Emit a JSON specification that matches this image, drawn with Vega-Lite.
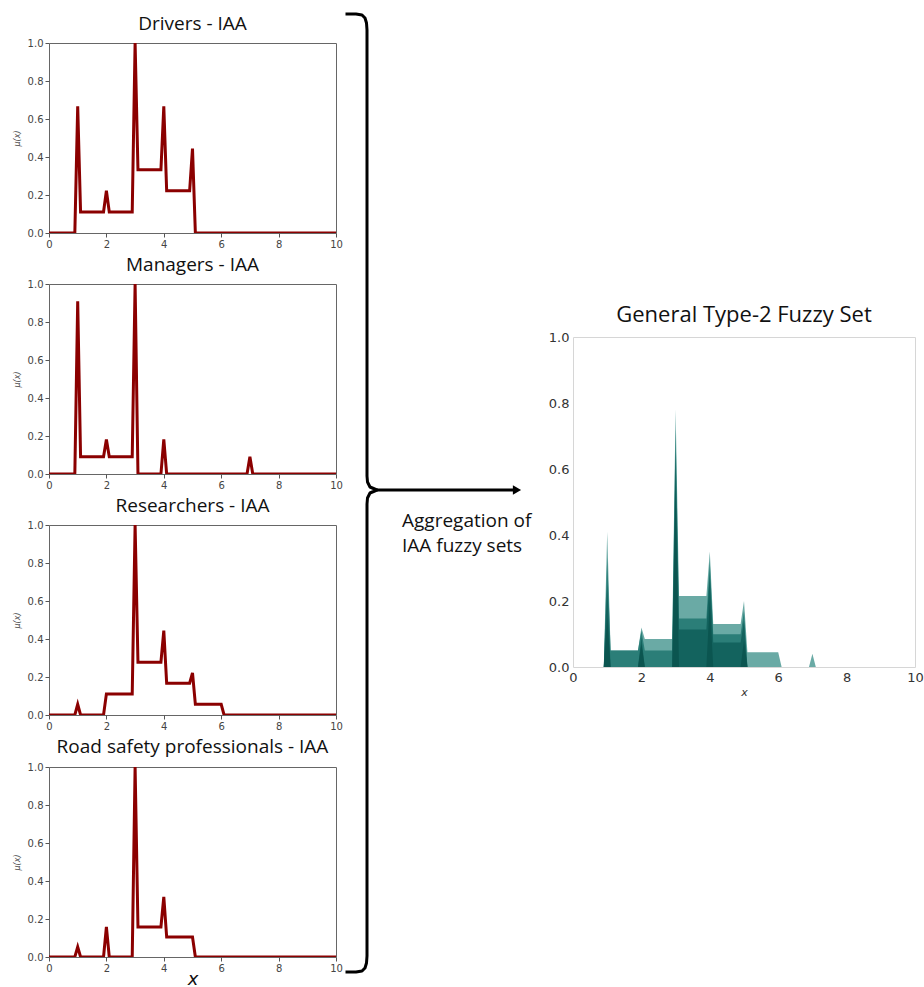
{
  "$schema": "https://vega.github.io/schema/vega-lite/v6.json",
  "background": "white",
  "padding": {"left": 12, "top": 12, "right": 0, "bottom": 0},
  "config": {
    "font": "DejaVu Sans",
    "axis": {"labelFont": "DejaVu Sans", "grid": false, "domain": false, "labelFlush": false},
    "title": {"font": "Open Sans", "fontWeight": "normal", "color": "#111"}
  },
  "datasets": {
    "type1": [
      {"group": "Drivers", "x": 0, "mu": 0}, {"group": "Drivers", "x": 0.9, "mu": 0}, {"group": "Drivers", "x": 1.0, "mu": 0.667}, {"group": "Drivers", "x": 1.1, "mu": 0.111}, {"group": "Drivers", "x": 1.9, "mu": 0.111}, {"group": "Drivers", "x": 2.0, "mu": 0.222}, {"group": "Drivers", "x": 2.1, "mu": 0.111}, {"group": "Drivers", "x": 2.9, "mu": 0.111}, {"group": "Drivers", "x": 3.0, "mu": 1.0}, {"group": "Drivers", "x": 3.1, "mu": 0.333}, {"group": "Drivers", "x": 3.9, "mu": 0.333}, {"group": "Drivers", "x": 4.0, "mu": 0.667}, {"group": "Drivers", "x": 4.1, "mu": 0.222}, {"group": "Drivers", "x": 4.9, "mu": 0.222}, {"group": "Drivers", "x": 5.0, "mu": 0.444}, {"group": "Drivers", "x": 5.1, "mu": 0}, {"group": "Drivers", "x": 10, "mu": 0},
      {"group": "Managers", "x": 0, "mu": 0}, {"group": "Managers", "x": 0.9, "mu": 0}, {"group": "Managers", "x": 1.0, "mu": 0.909}, {"group": "Managers", "x": 1.1, "mu": 0.091}, {"group": "Managers", "x": 1.9, "mu": 0.091}, {"group": "Managers", "x": 2.0, "mu": 0.182}, {"group": "Managers", "x": 2.1, "mu": 0.091}, {"group": "Managers", "x": 2.9, "mu": 0.091}, {"group": "Managers", "x": 3.0, "mu": 1.0}, {"group": "Managers", "x": 3.1, "mu": 0}, {"group": "Managers", "x": 3.9, "mu": 0}, {"group": "Managers", "x": 4.0, "mu": 0.182}, {"group": "Managers", "x": 4.1, "mu": 0}, {"group": "Managers", "x": 6.9, "mu": 0}, {"group": "Managers", "x": 7.0, "mu": 0.091}, {"group": "Managers", "x": 7.1, "mu": 0}, {"group": "Managers", "x": 10, "mu": 0},
      {"group": "Researchers", "x": 0, "mu": 0}, {"group": "Researchers", "x": 0.9, "mu": 0}, {"group": "Researchers", "x": 1.0, "mu": 0.056}, {"group": "Researchers", "x": 1.1, "mu": 0}, {"group": "Researchers", "x": 1.9, "mu": 0}, {"group": "Researchers", "x": 2.0, "mu": 0.111}, {"group": "Researchers", "x": 2.9, "mu": 0.111}, {"group": "Researchers", "x": 3.0, "mu": 1.0}, {"group": "Researchers", "x": 3.1, "mu": 0.278}, {"group": "Researchers", "x": 3.9, "mu": 0.278}, {"group": "Researchers", "x": 4.0, "mu": 0.444}, {"group": "Researchers", "x": 4.1, "mu": 0.167}, {"group": "Researchers", "x": 4.9, "mu": 0.167}, {"group": "Researchers", "x": 5.0, "mu": 0.222}, {"group": "Researchers", "x": 5.1, "mu": 0.056}, {"group": "Researchers", "x": 6.0, "mu": 0.056}, {"group": "Researchers", "x": 6.1, "mu": 0}, {"group": "Researchers", "x": 10, "mu": 0},
      {"group": "Road", "x": 0, "mu": 0}, {"group": "Road", "x": 0.9, "mu": 0}, {"group": "Road", "x": 1.0, "mu": 0.053}, {"group": "Road", "x": 1.1, "mu": 0}, {"group": "Road", "x": 1.9, "mu": 0}, {"group": "Road", "x": 2.0, "mu": 0.158}, {"group": "Road", "x": 2.1, "mu": 0}, {"group": "Road", "x": 2.9, "mu": 0}, {"group": "Road", "x": 3.0, "mu": 1.0}, {"group": "Road", "x": 3.1, "mu": 0.158}, {"group": "Road", "x": 3.9, "mu": 0.158}, {"group": "Road", "x": 4.0, "mu": 0.316}, {"group": "Road", "x": 4.1, "mu": 0.105}, {"group": "Road", "x": 5.0, "mu": 0.105}, {"group": "Road", "x": 5.1, "mu": 0}, {"group": "Road", "x": 10, "mu": 0}
    ],
    "gt2": [
      {"slice": 1, "x": 0.9, "mu": 0}, {"slice": 1, "x": 1.0, "mu": 0.41}, {"slice": 1, "x": 1.1, "mu": 0.05}, {"slice": 1, "x": 1.9, "mu": 0.05}, {"slice": 1, "x": 2.0, "mu": 0.12}, {"slice": 1, "x": 2.1, "mu": 0.085}, {"slice": 1, "x": 2.9, "mu": 0.085}, {"slice": 1, "x": 3.0, "mu": 0.78}, {"slice": 1, "x": 3.1, "mu": 0.215}, {"slice": 1, "x": 3.9, "mu": 0.215}, {"slice": 1, "x": 4.0, "mu": 0.35}, {"slice": 1, "x": 4.1, "mu": 0.13}, {"slice": 1, "x": 4.9, "mu": 0.13}, {"slice": 1, "x": 5.0, "mu": 0.2}, {"slice": 1, "x": 5.1, "mu": 0.045}, {"slice": 1, "x": 6.0, "mu": 0.045}, {"slice": 1, "x": 6.1, "mu": 0}, {"slice": 1, "x": 6.9, "mu": 0}, {"slice": 1, "x": 7.0, "mu": 0.04}, {"slice": 1, "x": 7.1, "mu": 0},
      {"slice": 2, "x": 0.9, "mu": 0}, {"slice": 2, "x": 1.0, "mu": 0.33}, {"slice": 2, "x": 1.1, "mu": 0.05}, {"slice": 2, "x": 1.9, "mu": 0.05}, {"slice": 2, "x": 2.0, "mu": 0.11}, {"slice": 2, "x": 2.1, "mu": 0.05}, {"slice": 2, "x": 2.9, "mu": 0.05}, {"slice": 2, "x": 3.0, "mu": 0.72}, {"slice": 2, "x": 3.1, "mu": 0.147}, {"slice": 2, "x": 3.9, "mu": 0.147}, {"slice": 2, "x": 4.0, "mu": 0.32}, {"slice": 2, "x": 4.1, "mu": 0.099}, {"slice": 2, "x": 4.9, "mu": 0.099}, {"slice": 2, "x": 5.0, "mu": 0.17}, {"slice": 2, "x": 5.1, "mu": 0},
      {"slice": 3, "x": 0.9, "mu": 0}, {"slice": 3, "x": 1.0, "mu": 0.25}, {"slice": 3, "x": 1.1, "mu": 0}, {"slice": 3, "x": 1.9, "mu": 0}, {"slice": 3, "x": 2.0, "mu": 0.09}, {"slice": 3, "x": 2.1, "mu": 0}, {"slice": 3, "x": 2.9, "mu": 0}, {"slice": 3, "x": 3.0, "mu": 0.65}, {"slice": 3, "x": 3.1, "mu": 0.114}, {"slice": 3, "x": 3.9, "mu": 0.114}, {"slice": 3, "x": 4.0, "mu": 0.28}, {"slice": 3, "x": 4.1, "mu": 0.074}, {"slice": 3, "x": 4.9, "mu": 0.074}, {"slice": 3, "x": 5.0, "mu": 0.14}, {"slice": 3, "x": 5.1, "mu": 0},
      {"slice": 4, "x": 0.9, "mu": 0}, {"slice": 4, "x": 1.0, "mu": 0.15}, {"slice": 4, "x": 1.1, "mu": 0}, {"slice": 4, "x": 1.9, "mu": 0}, {"slice": 4, "x": 2.0, "mu": 0.07}, {"slice": 4, "x": 2.1, "mu": 0}, {"slice": 4, "x": 2.9, "mu": 0}, {"slice": 4, "x": 3.0, "mu": 0.55}, {"slice": 4, "x": 3.1, "mu": 0}, {"slice": 4, "x": 3.9, "mu": 0}, {"slice": 4, "x": 4.0, "mu": 0.2}, {"slice": 4, "x": 4.1, "mu": 0}, {"slice": 4, "x": 4.9, "mu": 0}, {"slice": 4, "x": 5.0, "mu": 0.08}, {"slice": 4, "x": 5.1, "mu": 0}
    ],
    "brace": [
      {"part": "brace", "i": 1, "px": 344.5, "py": 14}, {"part": "brace", "i": 2, "px": 355, "py": 14}, {"part": "brace", "i": 3, "px": 361, "py": 15}, {"part": "brace", "i": 4, "px": 364, "py": 18}, {"part": "brace", "i": 5, "px": 365.5, "py": 23}, {"part": "brace", "i": 6, "px": 366, "py": 30}, {"part": "brace", "i": 7, "px": 366, "py": 476}, {"part": "brace", "i": 8, "px": 366.5, "py": 482}, {"part": "brace", "i": 9, "px": 369, "py": 487}, {"part": "brace", "i": 10, "px": 376, "py": 490}, {"part": "brace", "i": 11, "px": 369, "py": 493}, {"part": "brace", "i": 12, "px": 366.5, "py": 498}, {"part": "brace", "i": 13, "px": 366, "py": 504}, {"part": "brace", "i": 14, "px": 366, "py": 956}, {"part": "brace", "i": 15, "px": 365.5, "py": 963}, {"part": "brace", "i": 16, "px": 364, "py": 968}, {"part": "brace", "i": 17, "px": 361, "py": 971}, {"part": "brace", "i": 18, "px": 355, "py": 972}, {"part": "brace", "i": 19, "px": 344.5, "py": 972},
      {"part": "arrow", "i": 1, "px": 376, "py": 490}, {"part": "arrow", "i": 2, "px": 513, "py": 490}
    ],
    "notes": [
      {"label": "Aggregation of", "px": 401, "py": 521},
      {"label": "IAA fuzzy sets", "px": 401, "py": 546}
    ],
    "heads": [{"px": 516, "py": 490}]
  },
  "hconcat": [
    {
      "vconcat": [
        {
          "width": 287, "height": 190,
          "view": {"stroke": "#666"},
          "title": {"text": "Drivers - IAA", "fontSize": 19, "anchor": "middle", "offset": 4},
          "data": {"name": "type1"},
          "transform": [{"filter": "datum.group === 'Drivers'"}],
          "mark": {"type": "line", "color": "#8b0000", "strokeWidth": 3, "clip": true},
          "encoding": {
            "x": {"field": "x", "type": "quantitative", "scale": {"domain": [0, 10], "nice": false}, "axis": {"values": [0, 2, 4, 6, 8, 10], "title": null, "labelFontSize": 10, "labelColor": "#444", "tickColor": "#555", "tickSize": 4, "labelPadding": 2}},
            "y": {"field": "mu", "type": "quantitative", "scale": {"domain": [0, 1]}, "axis": {"values": [0, 0.2, 0.4, 0.6, 0.8, 1], "format": ".1f", "title": "μ(x)", "titleFontStyle": "italic", "titleFontWeight": "normal", "titleFontSize": 8, "titleColor": "#444", "titlePadding": 6, "labelFontSize": 10, "labelColor": "#444", "tickColor": "#555", "tickSize": 4, "labelPadding": 2}}
          }
        },
        {
          "width": 287, "height": 190,
          "view": {"stroke": "#666"},
          "title": {"text": "Managers - IAA", "fontSize": 19, "anchor": "middle", "offset": 4},
          "data": {"name": "type1"},
          "transform": [{"filter": "datum.group === 'Managers'"}],
          "mark": {"type": "line", "color": "#8b0000", "strokeWidth": 3, "clip": true},
          "encoding": {
            "x": {"field": "x", "type": "quantitative", "scale": {"domain": [0, 10], "nice": false}, "axis": {"values": [0, 2, 4, 6, 8, 10], "title": null, "labelFontSize": 10, "labelColor": "#444", "tickColor": "#555", "tickSize": 4, "labelPadding": 2}},
            "y": {"field": "mu", "type": "quantitative", "scale": {"domain": [0, 1]}, "axis": {"values": [0, 0.2, 0.4, 0.6, 0.8, 1], "format": ".1f", "title": "μ(x)", "titleFontStyle": "italic", "titleFontWeight": "normal", "titleFontSize": 8, "titleColor": "#444", "titlePadding": 6, "labelFontSize": 10, "labelColor": "#444", "tickColor": "#555", "tickSize": 4, "labelPadding": 2}}
          }
        },
        {
          "width": 287, "height": 190,
          "view": {"stroke": "#666"},
          "title": {"text": "Researchers - IAA", "fontSize": 19, "anchor": "middle", "offset": 4},
          "data": {"name": "type1"},
          "transform": [{"filter": "datum.group === 'Researchers'"}],
          "mark": {"type": "line", "color": "#8b0000", "strokeWidth": 3, "clip": true},
          "encoding": {
            "x": {"field": "x", "type": "quantitative", "scale": {"domain": [0, 10], "nice": false}, "axis": {"values": [0, 2, 4, 6, 8, 10], "title": null, "labelFontSize": 10, "labelColor": "#444", "tickColor": "#555", "tickSize": 4, "labelPadding": 2}},
            "y": {"field": "mu", "type": "quantitative", "scale": {"domain": [0, 1]}, "axis": {"values": [0, 0.2, 0.4, 0.6, 0.8, 1], "format": ".1f", "title": "μ(x)", "titleFontStyle": "italic", "titleFontWeight": "normal", "titleFontSize": 8, "titleColor": "#444", "titlePadding": 6, "labelFontSize": 10, "labelColor": "#444", "tickColor": "#555", "tickSize": 4, "labelPadding": 2}}
          }
        },
        {
          "width": 287, "height": 190,
          "view": {"stroke": "#666"},
          "title": {"text": "Road safety professionals - IAA", "fontSize": 19, "anchor": "middle", "offset": 5},
          "data": {"name": "type1"},
          "transform": [{"filter": "datum.group === 'Road'"}],
          "mark": {"type": "line", "color": "#8b0000", "strokeWidth": 3, "clip": true},
          "encoding": {
            "x": {"field": "x", "type": "quantitative", "scale": {"domain": [0, 10], "nice": false}, "axis": {"values": [0, 2, 4, 6, 8, 10], "title": "x", "titleFont": "DejaVu Sans", "titleFontStyle": "italic", "titleFontWeight": "normal", "titleFontSize": 18, "titleColor": "#111", "titlePadding": -3, "labelFontSize": 10, "labelColor": "#444", "tickColor": "#555", "tickSize": 4, "labelPadding": 2}},
            "y": {"field": "mu", "type": "quantitative", "scale": {"domain": [0, 1]}, "axis": {"values": [0, 0.2, 0.4, 0.6, 0.8, 1], "format": ".1f", "title": "μ(x)", "titleFontStyle": "italic", "titleFontWeight": "normal", "titleFontSize": 8, "titleColor": "#444", "titlePadding": 6, "labelFontSize": 10, "labelColor": "#444", "tickColor": "#555", "tickSize": 4, "labelPadding": 2}}
          }
        }
      ],
      "spacing": 5
    },
    {
      "width": 204, "height": 944,
      "view": {"stroke": null},
      "layer": [
        {
          "data": {"name": "brace"},
          "mark": {"type": "line", "color": "#000", "strokeWidth": 3, "clip": false, "strokeJoin": "round"},
          "encoding": {
            "x": {"field": "px", "type": "quantitative", "scale": {"domain": [342, 546], "nice": false, "zero": false}, "axis": null},
            "y": {"field": "py", "type": "quantitative", "scale": {"domain": [43, 987], "nice": false, "zero": false, "reverse": true}, "axis": null},
            "detail": {"field": "part"},
            "order": {"field": "i"}
          }
        },
        {
          "data": {"name": "heads"},
          "mark": {"type": "point", "shape": "triangle-right", "filled": true, "color": "#000", "opacity": 1, "size": 90},
          "encoding": {
            "x": {"field": "px", "type": "quantitative"},
            "y": {"field": "py", "type": "quantitative"}
          }
        },
        {
          "data": {"name": "notes"},
          "mark": {"type": "text", "align": "left", "baseline": "middle", "font": "Open Sans", "fontSize": 19, "color": "#111"},
          "encoding": {
            "x": {"field": "px", "type": "quantitative"},
            "y": {"field": "py", "type": "quantitative"},
            "text": {"field": "label"}
          }
        }
      ]
    },
    {
      "vconcat": [
        {
          "width": 342, "height": 260,
          "view": {"stroke": null},
          "data": {"values": [{}]},
          "mark": {"type": "point", "opacity": 0},
          "encoding": {}
        },
        {
          "width": 342, "height": 330,
          "view": {"stroke": "#d6d6d6"},
          "title": {"text": "General Type-2 Fuzzy Set", "fontSize": 22, "anchor": "middle", "offset": 4},
          "data": {"name": "gt2"},
          "mark": {"type": "area", "opacity": 1},
          "encoding": {
            "x": {"field": "x", "type": "quantitative", "scale": {"domain": [0, 10], "nice": false}, "axis": {"values": [0, 2, 4, 6, 8, 10], "title": "x", "titleFontStyle": "italic", "titleFontWeight": "normal", "titleFontSize": 11, "titleColor": "#333", "titlePadding": 2, "labelFontSize": 13, "labelColor": "#333", "ticks": false, "labelPadding": 4}},
            "y": {"field": "mu", "type": "quantitative", "stack": null, "scale": {"domain": [0, 1]}, "axis": {"values": [0, 0.2, 0.4, 0.6, 0.8, 1], "format": ".1f", "title": null, "labelFontSize": 13, "labelColor": "#333", "ticks": false, "labelPadding": 4}},
            "color": {"field": "slice", "type": "ordinal", "scale": {"range": ["#6aaaa5", "#2b7e78", "#13635e", "#0b5550"]}, "legend": null}
          }
        }
      ],
      "spacing": 0
    }
  ],
  "spacing": 0
}
